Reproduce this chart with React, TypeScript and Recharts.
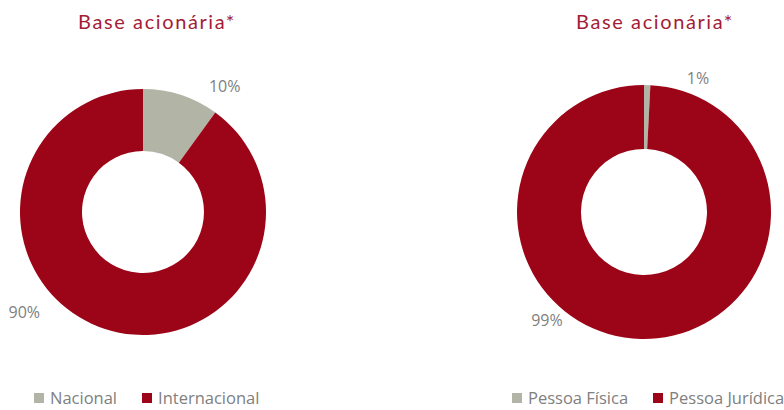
import React from 'react';
import { PieChart, Pie, Cell } from 'recharts';

const titleText = 'Base acionária*';

const origemNames = ['Nacional', 'Internacional'];
const origemValues = [10, 90];

const pessoaNames = ['Pessoa Física', 'Pessoa Jurídica'];
const pessoaValues = [0.8, 99.2];

const COLORS = ['#B2B4A5', '#9C0517'];
const TITLE_COLOR = '#A31D35';
const LABEL_COLOR = '#808080';

interface DonutProps {
  names: string[];
  values: number[];
  left: number;
  width: number;
  cx: number;
  outer: number;
  inner: number;
  titleX: number;
  // label placement: angle (deg) and distance from centre, per slice
  labelPos: { angle: number; dist: number }[];
  legendX: number;
  legendGap: number;
}

const Donut: React.FC<DonutProps> = ({
  names, values, left, width, cx, outer, inner, titleX, labelPos, legendX, legendGap
}) => {
  const data = names.map((name, i) => ({ name, value: values[i] }));
  const cy = 212;

  const renderLabel = (props: any) => {
    const { index, percent } = props;
    const pos = labelPos[index];
    const rad = (pos.angle * Math.PI) / 180;
    const x = Number(props.cx) + pos.dist * Math.cos(rad);
    const y = Number(props.cy) - pos.dist * Math.sin(rad);
    return (
      <text
        x={x}
        y={y}
        fill={LABEL_COLOR}
        fontSize={16}
        fontFamily="'Open Sans', sans-serif"
        textAnchor="middle"
        dominantBaseline="central"
      >
        {Math.round(percent * 100)}%
      </text>
    );
  };

  return (
    <div style={{ position: 'absolute', left, top: 0, width, height: 410 }}>
      <div
        style={{
          position: 'absolute',
          left: titleX - 110,
          width: 220,
          top: 9,
          textAlign: 'center',
          color: TITLE_COLOR,
          fontFamily: 'Lato, sans-serif',
          fontSize: 20,
          lineHeight: '24px',
          letterSpacing: 1.6,
        }}
      >
        {titleText}
      </div>
      <PieChart width={width} height={410} margin={{ top: 0, right: 0, bottom: 0, left: 0 }}>
        <Pie
          data={data}
          dataKey="value"
          cx={cx}
          cy={cy}
          innerRadius={inner}
          outerRadius={outer}
          startAngle={90}
          endAngle={-270}
          stroke="none"
          label={renderLabel}
          labelLine={false}
          isAnimationActive={false}
        >
          {data.map((d, i) => (
            <Cell key={d.name} fill={COLORS[i]} />
          ))}
        </Pie>
      </PieChart>
      <div
        style={{
          position: 'absolute',
          left: legendX,
          top: 389,
          display: 'flex',
          alignItems: 'center',
          fontFamily: "'Open Sans', sans-serif",
          fontSize: 16.5,
          lineHeight: '18px',
          color: LABEL_COLOR,
          whiteSpace: 'nowrap',
        }}
      >
        {names.map((n, i) => (
          <div key={n} style={{ display: 'flex', alignItems: 'center', marginRight: legendGap }}>
            <span style={{ width: 10, height: 10, background: COLORS[i], display: 'inline-block', marginRight: 6 }} />
            <span>{n}</span>
          </div>
        ))}
      </div>
    </div>
  );
};

export default function App() {
  return (
    <div style={{ position: 'absolute', left: 0, top: 0, width: 784, height: 410, background: '#fff', overflow: 'hidden' }}>
      <Donut
        names={origemNames}
        values={origemValues}
        left={0}
        width={320}
        cx={143}
        outer={123}
        inner={61}
        titleX={157}
        labelPos={[{ angle: 57, dist: 150 }, { angle: -140, dist: 155 }]}
        legendX={34}
        legendGap={25}
      />
      <Donut
        names={pessoaNames}
        values={pessoaValues}
        left={500}
        width={284}
        cx={144}
        outer={127}
        inner={63}
        titleX={155}
        labelPos={[{ angle: 68, dist: 144 }, { angle: -132, dist: 145 }]}
        legendX={12}
        legendGap={25}
      />
    </div>
  );
}
